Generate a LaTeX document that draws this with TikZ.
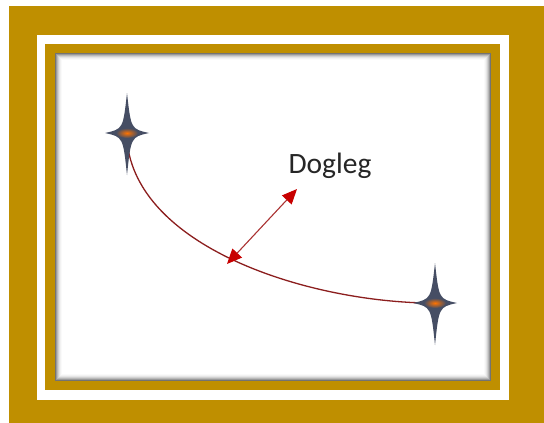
\documentclass[tikz,border=0pt]{standalone}
\usepackage{fontspec}
\setmainfont{Carlito}
\usetikzlibrary{arrows.meta}
\definecolor{gold}{RGB}{191,143,0}
\definecolor{starcol}{RGB}{70,78,100}
\definecolor{curvecol}{RGB}{140,30,30}
\definecolor{arrowhead}{RGB}{200,0,0}
\definecolor{arrowline}{RGB}{170,50,50}
\tikzset{
  fourstar/.pic={
    \fill[starcol] (0,-40) .. controls (4,-4) .. (22,0) .. controls (4,4) .. (0,42)
      .. controls (-4,4) .. (-22,0) .. controls (-4,-4) .. cycle;
    \shade[inner color=orange!90!red, outer color=starcol] (0,0) ellipse (11 and 5);
  },
  pathline/.style={draw=curvecol, line width=1.3pt},
  dogarrow/.style={draw=arrowline, line width=1.1pt,
    {Triangle[length=15pt,width=13pt,fill=arrowhead,color=arrowhead]}-{Triangle[length=15pt,width=13pt,fill=arrowhead,color=arrowhead]}},
  lbl/.style={font=\fontsize{29.5}{32}\selectfont, text=black!85, inner sep=0pt}
}
\begin{document}
\begin{tikzpicture}[x=1pt,y=-1pt]
\useasboundingbox (0,0) rectangle (544,423);
\fill[white] (0,0) rectangle (544,423);
% frames
\fill[gold] (9,6) rectangle (544,423);
\fill[white] (37,35) rectangle (509,400);
\fill[gold] (45,44) rectangle (500,390);
\fill[white] (55,53) rectangle (491,381);
% inner shadow
\foreach \i/\o in {0/0.55,1/0.4,2/0.28,3/0.18,4/0.1,5/0.05,6/0.02} {
  \draw[black, opacity=\o, line width=1pt] (55.5+\i,53.5+\i) rectangle (490.5-\i,380.5-\i);
}
% stars
\coordinate (s1) at (127,133);
\coordinate (s2) at (435,303);
\draw[pathline] (s1) ++(0,8) .. controls (137,245) and (300,300) .. ([xshift=-10pt]s2);
\pic at (s1) {fourstar};
\pic at (s2) {fourstar};
% dogleg arrow
\coordinate (a1) at (227,264);
\coordinate (a2) at (297,189);
\draw[dogarrow] (a1) -- (a2);
\node[lbl, anchor=base] (dog) at (330,173) {Dogleg};
\end{tikzpicture}
\end{document}
